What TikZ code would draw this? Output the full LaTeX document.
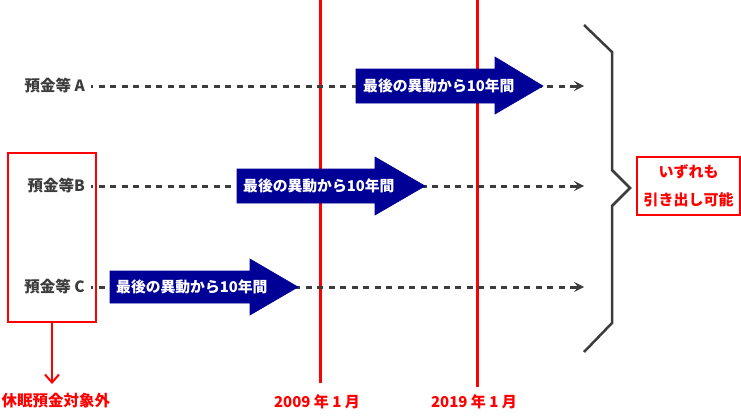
\documentclass[tikz,border=0pt]{standalone}
\usepackage{fontspec}
\setmainfont{Noto Sans CJK JP}
\usepackage{tikz}
\usepackage{xcolor}
\usetikzlibrary{arrows.meta}
\definecolor{linegray}{HTML}{3C3C3C}
\definecolor{arrowblue}{HTML}{000096}
\definecolor{markred}{HTML}{FF0000}
\tikzset{
  rowtext/.style={text=linegray, font=\bfseries\fontsize{15.5}{18}\selectfont, inner sep=0pt, anchor=east},
  dotline/.style={draw=linegray, line width=3pt, dash pattern=on 6pt off 5.5pt, dash phase=4pt, shorten >=9pt},
  chevron/.style={draw=linegray, fill=linegray, line width=3pt,
    -{Stealth[length=10pt, width=10pt, inset=4pt, line width=0pt]}},
  yearline/.style={draw=markred, line width=3pt},
  yeartext/.style={text=markred, font=\bfseries\fontsize{15}{18}\selectfont, inner sep=0pt},
  blockarrow/.style={fill=arrowblue, draw=arrowblue, line width=0.6pt},
  arrowtext/.style={text=white, font=\bfseries\fontsize{14.8}{17}\selectfont, inner sep=0pt, anchor=west},
  redframe/.style={draw=markred, line width=2pt},
  bracket/.style={draw=linegray, line width=2.5pt}
}
\begin{document}
\begin{tikzpicture}[x=1pt, y=-1pt]
\useasboundingbox (0,0) rectangle (741,415);
% years
\draw[yearline] (320,0) -- (320,383);
\draw[yearline] (477,0) -- (477,387);
\node[yeartext] (y2009) at (317,402) {2009 年 1 月};
\node[yeartext] (y2019) at (474,402) {2019 年 1 月};

% deposits
\node[rowtext] (depa) at (85,86) {預金等 A};
\node[rowtext] (depb) at (85,186) {預金等B};
\node[rowtext] (depc) at (85,287) {預金等 C};
\coordinate (enda) at (584,86);
\coordinate (endb) at (584,186);
\coordinate (endc) at (584,287);
\draw[dotline] ([xshift=6pt]depa.east) -- (enda);
\draw[dotline] ([xshift=6pt]depb.east) -- (endb);
\draw[dotline] ([xshift=6pt]depc.east) -- (endc);
\draw[chevron] ([xshift=-10pt]enda) -- (enda);
\draw[chevron] ([xshift=-10pt]endb) -- (endb);
\draw[chevron] ([xshift=-10pt]endc) -- (endc);

% ten years since last movement
\filldraw[blockarrow] (356,69) -- ++(139,0) -- ++(0,-12) -- ++(48,29) -- ++(-48,28) -- ++(0,-11) -- ++(-139,0) -- cycle;
\node[arrowtext] (lapsa) at (363,86) {最後の異動から10年間};
\filldraw[blockarrow] (237,169) -- ++(138,0) -- ++(0,-12) -- ++(50,29) -- ++(-50,29) -- ++(0,-12) -- ++(-138,0) -- cycle;
\node[arrowtext] (lapsb) at (243,186) {最後の異動から10年間};
\filldraw[blockarrow] (110,271) -- ++(140,0) -- ++(0,-12) -- ++(48,28) -- ++(-48,28) -- ++(0,-12) -- ++(-140,0) -- cycle;
\node[arrowtext] (lapsc) at (116,287) {最後の異動から10年間};

% not dormant
\node[redframe, minimum width=88pt, minimum height=169pt] (outbox) at (52,237.5) {};
\coordinate (outtip) at (52,384);
\draw[redframe, -{Straight Barb[length=8pt, width=14pt]}] (outbox.south) -- (outtip);
\node[yeartext, font=\bfseries\fontsize{15.5}{18}\selectfont] (outtext) at (56,401) {休眠預金対象外};

% all withdrawable
\draw[bracket] (584,25) -- (612,52) -- (612,170) -- (630,188) -- (612,206) -- (612,323) -- (584,352);
\node[redframe, minimum width=103pt, minimum height=58pt, text=markred, align=center,
  font=\bfseries\fontsize{15}{28}\selectfont] (okbox) at (688.5,186) {いずれも\\引き出し可能};
\end{tikzpicture}
\end{document}
